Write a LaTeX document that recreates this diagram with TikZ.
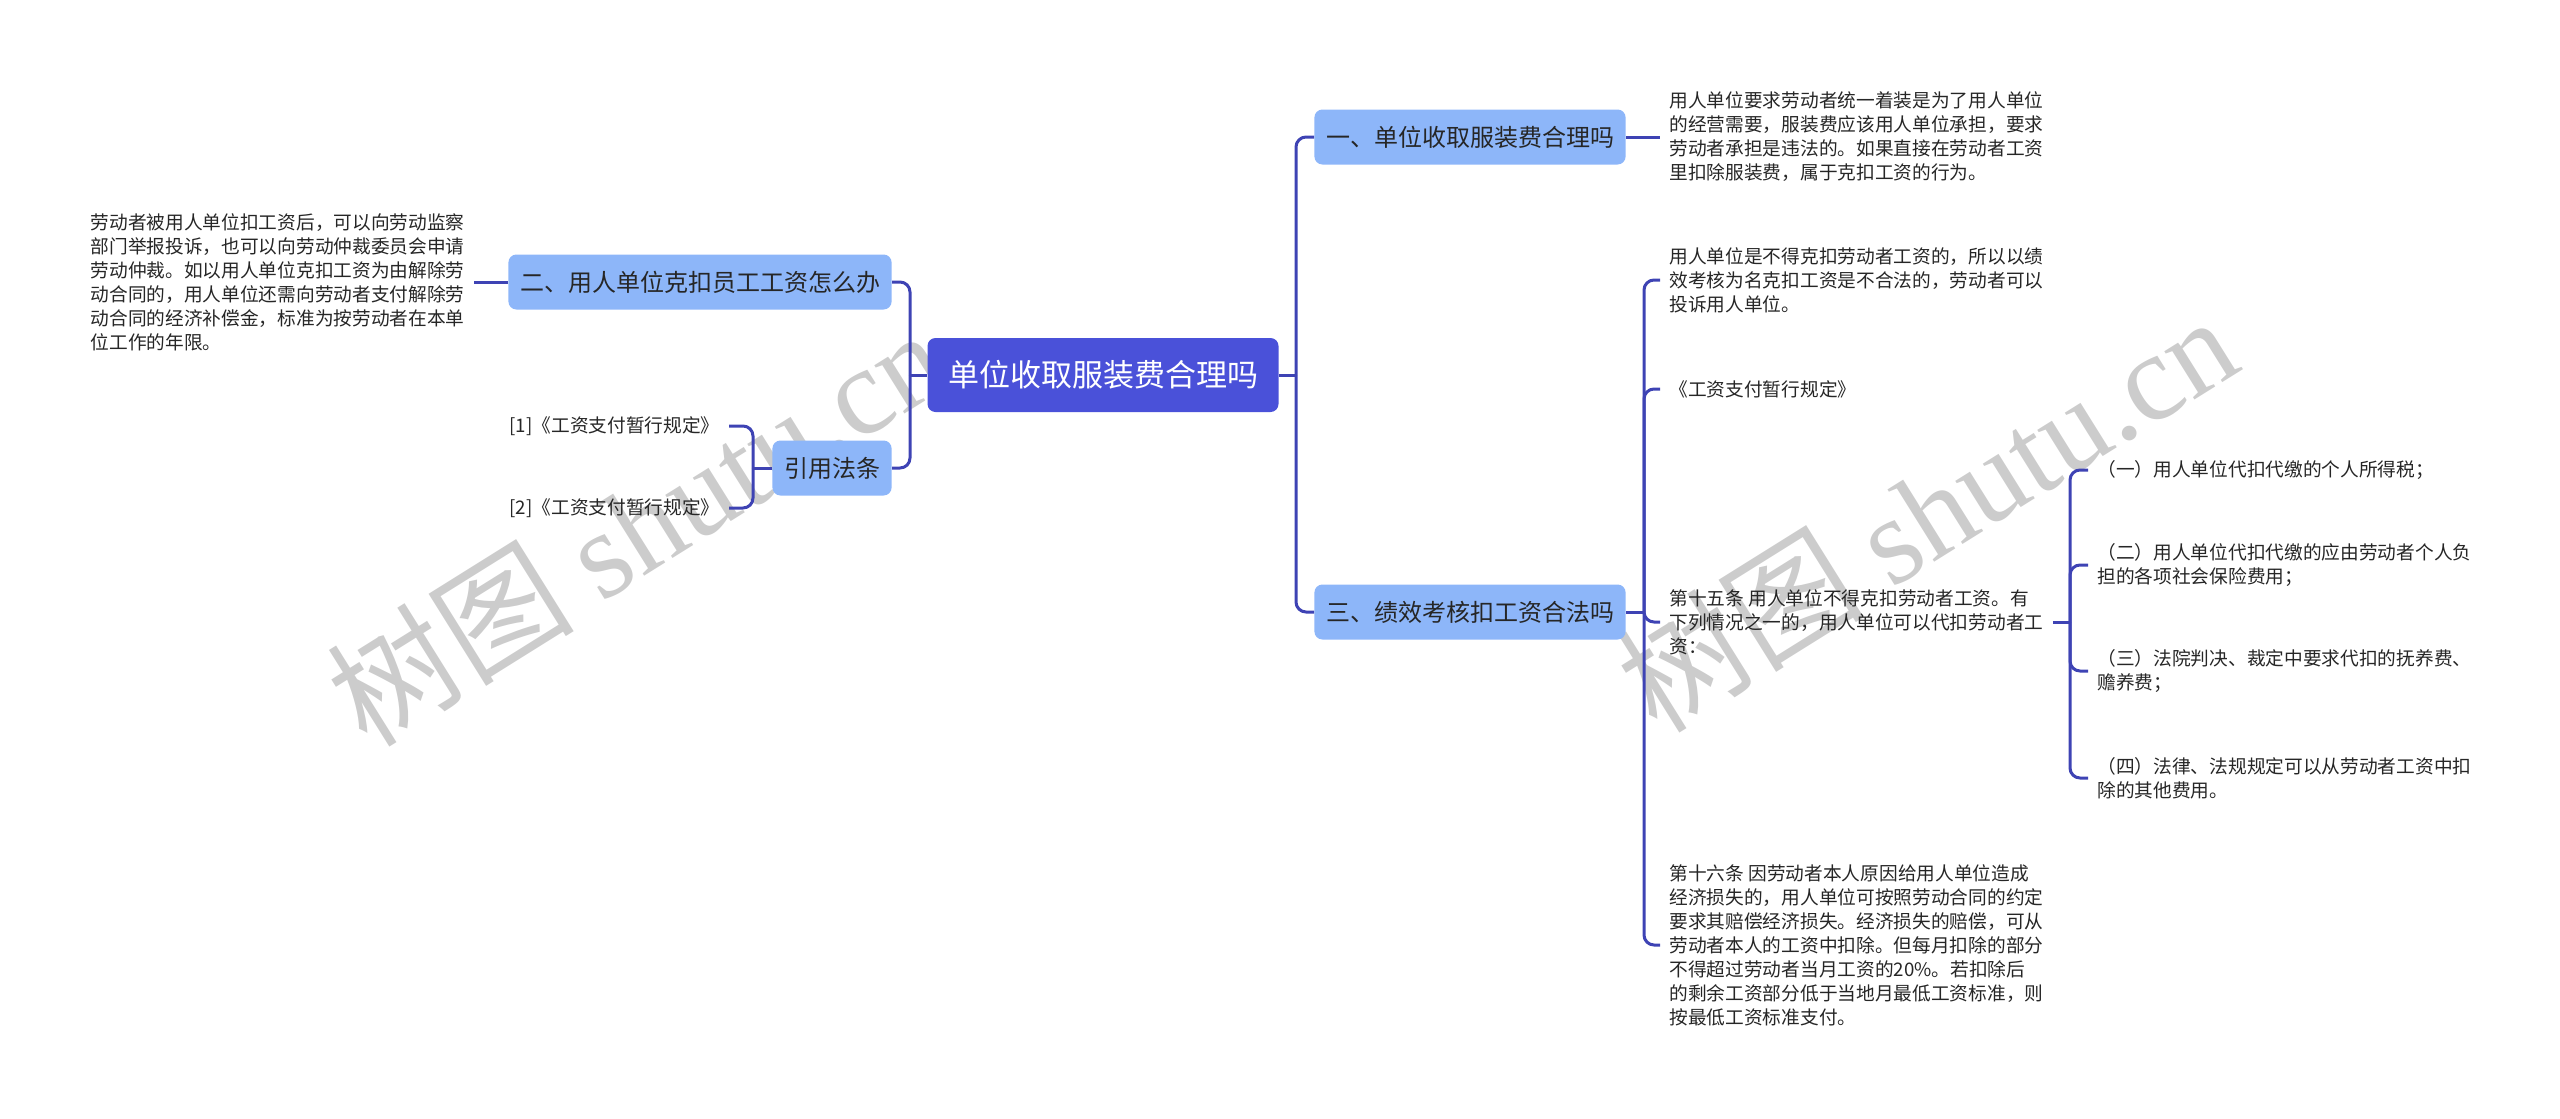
\documentclass[tikz,border=0pt]{standalone}
\usepackage{fontspec}
\setmainfont{Noto Sans CJK SC}
\newfontfamily\wmfont{Liberation Serif}
\usepackage{xcolor}

\definecolor{rootblue}{HTML}{4A51D9}
\definecolor{subblue}{HTML}{8DB6F9}
\definecolor{linkblue}{HTML}{3E43B4}
\definecolor{inkgray}{HTML}{262626}

\tikzset{
  rootbox/.style={fill=rootblue, rounded corners=4pt, text=white,
    font=\fontsize{15.5}{18}\selectfont, minimum width=175.5pt, minimum height=37pt},
  subbox/.style={fill=subblue, rounded corners=4pt, text=inkgray,
    font=\fontsize{12}{14}\selectfont, inner xsep=5.8pt, minimum height=27.5pt},
  leaf/.style={align=left, inner xsep=4.5pt, inner ysep=0pt, text=inkgray,
    font=\fontsize{9.35}{12}\selectfont},
  link/.style={draw=linkblue, line width=1.5pt, rounded corners=5pt},
  wmark/.style={text=black!20, font=\fontsize{62}{64}\selectfont, rotate=32},
}

\begin{document}
\begin{tikzpicture}[x=0.5pt,y=-0.5pt]
    \useasboundingbox (0,0) rectangle (2560,1119);

    % watermark
    \node[wmark] (wm1) at (636,526) {树图 {\wmfont shutu.cn}};
    \node[wmark] (wm2) at (1926,512) {树图 {\wmfont shutu.cn}};

    \node[rootbox] (root) at (1103,375) {单位收取服装费合理吗};
    \node[subbox, anchor=west] (b1) at (1314,137) {一、单位收取服装费合理吗};
    \node[subbox, anchor=west] (b3) at (1314,612) {三、绩效考核扣工资合法吗};
    \node[subbox, anchor=east] (b2) at (892,282) {二、用人单位克扣员工工资怎么办};
    \node[subbox, anchor=east] (b4) at (892,468) {引用法条};

    \node[leaf, anchor=east] (lt) at (474,282) {劳动者被用人单位扣工资后，可以向劳动监察\\部门举报投诉，也可以向劳动仲裁委员会申请\\劳动仲裁。如以用人单位克扣工资为由解除劳\\动合同的，用人单位还需向劳动者支付解除劳\\动合同的经济补偿金，标准为按劳动者在本单\\位工作的年限。};
    \node[leaf, anchor=east] (p1) at (729,426) {[1]《工资支付暂行规定》};
    \node[leaf, anchor=east] (p2) at (729,508) {[2]《工资支付暂行规定》};

    \node[leaf, anchor=west] (r1) at (1660,137) {用人单位要求劳动者统一着装是为了用人单位\\的经营需要，服装费应该用人单位承担，要求\\劳动者承担是违法的。如果直接在劳动者工资\\里扣除服装费，属于克扣工资的行为。};
    \node[leaf, anchor=west] (c1) at (1660,280) {用人单位是不得克扣劳动者工资的，所以以绩\\效考核为名克扣工资是不合法的，劳动者可以\\投诉用人单位。};
    \node[leaf, anchor=west] (c2) at (1660,389) {《工资支付暂行规定》};
    \node[leaf, anchor=west] (c3) at (1660,622) {第十五条 用人单位不得克扣劳动者工资。有\\下列情况之一的，用人单位可以代扣劳动者工\\资：};
    \node[leaf, anchor=west] (c4) at (1660,945) {第十六条 因劳动者本人原因给用人单位造成\\经济损失的，用人单位可按照劳动合同的约定\\要求其赔偿经济损失。经济损失的赔偿，可从\\劳动者本人的工资中扣除。但每月扣除的部分\\不得超过劳动者当月工资的20\%。若扣除后\\的剩余工资部分低于当地月最低工资标准，则\\按最低工资标准支付。};

    \node[leaf, anchor=west] (g1) at (2088,470) {（一）用人单位代扣代缴的个人所得税；};
    \node[leaf, anchor=west] (g2) at (2088,565) {（二）用人单位代扣代缴的应由劳动者个人负\\担的各项社会保险费用；};
    \node[leaf, anchor=west] (g3) at (2088,671) {（三）法院判决、裁定中要求代扣的抚养费、\\赡养费；};
    \node[leaf, anchor=west] (g4) at (2088,778) {（四）法律、法规规定可以从劳动者工资中扣\\除的其他费用。};

    \coordinate (jr) at (1296,375);
    \coordinate (jl) at (910,375);
    \coordinate (j4) at (753,468);
    \coordinate (j3) at (1644,612);
    \coordinate (j15) at (2070,622);

    \draw[link] (root.east) -- (jr);
    \draw[link] (jr) |- (b1.west);
    \draw[link] (jr) |- (b3.west);
    \draw[link] (root.west) -- (jl);
    \draw[link] (jl) |- (b2.east);
    \draw[link] (jl) |- (b4.east);

    \draw[link] (b1.east) -- (r1.west);
    \draw[link] (b2.west) -- (lt.east);
    \draw[link] (b4.west) -- (j4);
    \draw[link] (j4) |- (p1.east);
    \draw[link] (j4) |- (p2.east);

    \draw[link] (b3.east) -- (j3);
    \foreach \c in {c1,c2,c3,c4}
        \draw[link] (j3) |- (\c.west);
    \draw[link] (c3.east) -- (j15);
    \foreach \g in {g1,g2,g3,g4}
        \draw[link] (j15) |- (\g.west);
\end{tikzpicture}
\end{document}
